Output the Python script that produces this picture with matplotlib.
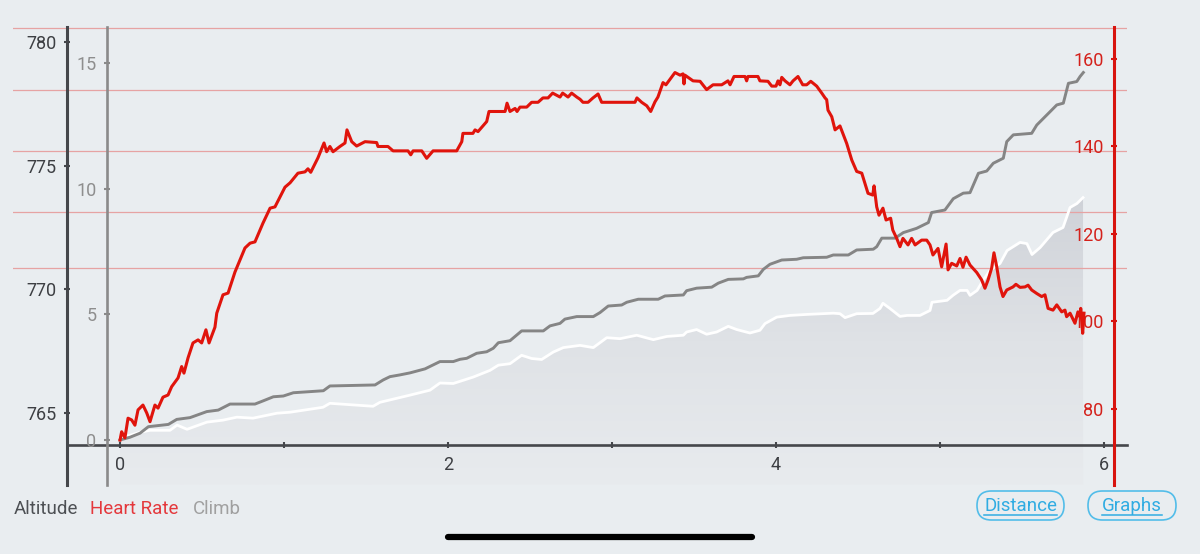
import matplotlib
matplotlib.use('Agg')
import matplotlib.pyplot as plt
import matplotlib.transforms as mtransforms
from matplotlib.colors import LinearSegmentedColormap
from matplotlib.patches import FancyBboxPatch
from matplotlib.lines import Line2D
import numpy as np

plt.rcParams['font.family'] = ['Roboto', 'DejaVu Sans']

# Heart rate [bpm] over distance [km]
hr_dist = [0.000, 0.010, 0.030, 0.049, 0.071, 0.091, 0.110, 0.140, 0.163, 0.183,
           0.213, 0.232, 0.262, 0.293, 0.315, 0.354, 0.376, 0.390, 0.415, 0.445,
           0.476, 0.498, 0.524, 0.543, 0.579, 0.590, 0.628, 0.659, 0.701, 0.762,
           0.793, 0.823, 0.872, 0.915, 0.945, 1.006, 1.037, 1.085, 1.128, 1.146,
           1.163, 1.207, 1.244, 1.260, 1.280, 1.299, 1.341, 1.372, 1.384, 1.413,
           1.443, 1.494, 1.565, 1.573, 1.634, 1.665, 1.756, 1.773, 1.787, 1.840,
           1.870, 1.909, 2.053, 2.084, 2.091, 2.152, 2.165, 2.183, 2.236, 2.250,
           2.348, 2.360, 2.378, 2.409, 2.421, 2.439, 2.480, 2.510, 2.549, 2.579,
           2.610, 2.638, 2.683, 2.699, 2.732, 2.754, 2.785, 2.805, 2.823, 2.854,
           2.884, 2.915, 2.937, 3.140, 3.152, 3.181, 3.212, 3.236, 3.262, 3.280,
           3.311, 3.329, 3.384, 3.415, 3.433, 3.439, 3.445, 3.494, 3.537, 3.577,
           3.616, 3.669, 3.707, 3.720, 3.744, 3.811, 3.821, 3.829, 3.890, 3.902,
           3.951, 3.974, 4.000, 4.012, 4.024, 4.035, 4.055, 4.085, 4.104, 4.134,
           4.163, 4.187, 4.212, 4.248, 4.279, 4.299, 4.309, 4.317, 4.340, 4.360,
           4.390, 4.431, 4.462, 4.492, 4.523, 4.561, 4.590, 4.598, 4.614, 4.628,
           4.652, 4.671, 4.699, 4.712, 4.736, 4.756, 4.774, 4.805, 4.827, 4.848,
           4.888, 4.919, 4.939, 4.957, 4.988, 5.010, 5.037, 5.049, 5.071, 5.102,
           5.122, 5.140, 5.159, 5.183, 5.224, 5.254, 5.274, 5.293, 5.315, 5.329,
           5.346, 5.366, 5.384, 5.407, 5.445, 5.463, 5.488, 5.518, 5.537, 5.559,
           5.590, 5.620, 5.640, 5.659, 5.689, 5.712, 5.742, 5.762, 5.772, 5.793,
           5.823, 5.841, 5.854, 5.858, 5.870, 5.878]
hr_bpm = [72.9, 74.8, 73.4, 77.9, 77.5, 76.3, 79.8, 80.9, 79.1, 77.1,
          80.9, 80.2, 82.7, 83.2, 85.1, 87.1, 89.7, 88.2, 91.7, 95.1,
          95.8, 95.1, 98.1, 95.1, 98.7, 101.9, 106.1, 106.5, 111.3, 116.8,
          117.9, 118.2, 122.5, 125.9, 126.2, 130.7, 131.7, 133.9, 134.2, 134.9,
          134.1, 137.4, 140.8, 138.8, 140.0, 138.8, 140.0, 140.8, 143.8, 141.1,
          140.1, 141.1, 140.9, 140.0, 140.0, 139.0, 139.0, 138.1, 139.0, 139.0,
          137.3, 139.0, 139.0, 141.1, 143.0, 143.0, 143.8, 143.4, 145.7, 148.0,
          148.0, 149.9, 148.0, 148.7, 148.0, 149.0, 149.0, 150.1, 150.1, 151.1,
          151.1, 152.2, 151.3, 152.2, 151.3, 152.2, 151.3, 150.8, 150.1, 150.1,
          151.1, 152.0, 150.1, 150.1, 151.1, 150.1, 149.3, 148.0, 150.2, 151.3,
          154.6, 154.1, 156.9, 156.3, 156.6, 154.3, 156.3, 155.0, 154.9, 153.0,
          154.1, 154.1, 155.0, 154.1, 156.0, 156.0, 155.0, 156.0, 156.0, 155.0,
          154.9, 153.8, 153.8, 155.0, 154.1, 155.8, 155.0, 154.1, 155.0, 156.0,
          154.1, 154.1, 154.9, 153.8, 152.2, 151.1, 150.7, 148.3, 146.8, 143.8,
          144.7, 140.7, 136.9, 134.3, 133.9, 129.3, 128.9, 131.0, 126.2, 124.3,
          125.9, 123.2, 123.6, 120.9, 119.0, 117.1, 119.0, 117.5, 119.0, 117.5,
          118.6, 118.6, 117.5, 115.2, 116.7, 112.5, 117.7, 111.8, 113.3, 112.7,
          114.4, 112.4, 114.7, 112.9, 111.2, 109.5, 107.6, 109.5, 112.2, 115.7,
          112.5, 107.9, 105.7, 107.2, 107.9, 108.5, 107.8, 107.9, 108.3, 107.2,
          106.4, 105.7, 106.1, 103.0, 102.6, 103.8, 102.2, 102.6, 101.1, 101.9,
          99.6, 102.2, 101.1, 103.0, 97.3, 101.9]

# Cumulative climb [m]
climb_dist = [0.000, 0.061, 0.122, 0.173, 0.295, 0.346, 0.427, 0.529, 0.599, 0.671,
              0.823, 0.874, 0.935, 0.996, 1.057, 1.240, 1.280, 1.555, 1.605, 1.646,
              1.707, 1.768, 1.860, 1.951, 2.032, 2.073, 2.114, 2.175, 2.236, 2.276,
              2.307, 2.378, 2.449, 2.581, 2.622, 2.683, 2.713, 2.785, 2.886, 2.927,
              2.977, 3.059, 3.090, 3.160, 3.282, 3.323, 3.435, 3.455, 3.516, 3.608,
              3.648, 3.709, 3.801, 3.821, 3.892, 3.923, 3.963, 4.035, 4.126, 4.166,
              4.309, 4.349, 4.441, 4.492, 4.593, 4.614, 4.645, 4.726, 4.776, 4.857,
              4.929, 4.949, 5.030, 5.081, 5.142, 5.183, 5.234, 5.285, 5.325, 5.386,
              5.407, 5.447, 5.559, 5.590, 5.671, 5.712, 5.752, 5.783, 5.834, 5.854,
              5.874]
climb_m = [0.00, 0.11, 0.27, 0.53, 0.62, 0.82, 0.89, 1.13, 1.19, 1.43,
           1.43, 1.56, 1.72, 1.75, 1.88, 1.96, 2.15, 2.19, 2.39, 2.52,
           2.59, 2.67, 2.83, 3.12, 3.12, 3.21, 3.25, 3.45, 3.51, 3.65,
           3.87, 3.95, 4.34, 4.34, 4.54, 4.64, 4.81, 4.91, 4.91, 5.07,
           5.33, 5.37, 5.48, 5.60, 5.60, 5.73, 5.77, 5.94, 6.04, 6.08,
           6.24, 6.39, 6.41, 6.47, 6.53, 6.79, 6.99, 7.16, 7.19, 7.25,
           7.27, 7.36, 7.36, 7.56, 7.59, 7.69, 8.03, 8.03, 8.25, 8.42,
           8.65, 9.05, 9.15, 9.60, 9.82, 9.84, 10.61, 10.70, 11.01, 11.21,
           11.87, 12.14, 12.20, 12.53, 13.06, 13.33, 13.40, 14.19, 14.26, 14.46,
           14.62]

# Altitude [m]
alt_dist = [0.000, 0.122, 0.183, 0.305, 0.348, 0.409, 0.530, 0.628, 0.713, 0.811,
            0.957, 1.037, 1.238, 1.280, 1.543, 1.585, 1.768, 1.890, 1.951, 2.032,
            2.154, 2.256, 2.307, 2.378, 2.449, 2.510, 2.571, 2.642, 2.703, 2.805,
            2.886, 2.968, 3.049, 3.151, 3.252, 3.334, 3.435, 3.455, 3.516, 3.577,
            3.638, 3.709, 3.760, 3.841, 3.902, 3.933, 4.004, 4.085, 4.187, 4.349,
            4.390, 4.421, 4.492, 4.591, 4.634, 4.652, 4.695, 4.756, 4.799, 4.878,
            4.939, 4.951, 5.043, 5.079, 5.122, 5.165, 5.183, 5.226, 5.262, 5.305,
            5.366, 5.409, 5.488, 5.530, 5.561, 5.610, 5.689, 5.750, 5.793, 5.835,
            5.872]
alt_m = [763.99, 764.23, 764.31, 764.31, 764.52, 764.35, 764.64, 764.72, 764.84, 764.80,
         765.00, 765.04, 765.24, 765.40, 765.28, 765.44, 765.73, 765.93, 766.22, 766.20,
         766.46, 766.73, 766.94, 767.00, 767.34, 767.21, 767.17, 767.47, 767.65, 767.74,
         767.65, 768.05, 768.01, 768.15, 767.97, 768.10, 768.15, 768.28, 768.38, 768.19,
         768.28, 768.51, 768.38, 768.24, 768.35, 768.62, 768.88, 768.95, 768.99, 769.04,
         769.02, 768.86, 769.02, 769.03, 769.23, 769.44, 769.23, 768.91, 768.95, 768.95,
         769.15, 769.48, 769.56, 769.76, 769.96, 769.96, 769.76, 769.96, 770.36, 770.77,
         771.05, 771.57, 771.90, 771.85, 771.41, 771.69, 772.30, 772.50, 773.31, 773.47,
         773.71]

# heart rate zone lines [bpm]
hr_zones = [112.2, 125.0, 139.0, 152.9, 167.0]

alt_ticks = [765, 770, 775, 780]
climb_ticks = [0, 5, 10, 15]
hr_ticks = [80, 100, 120, 140, 160]
dist_ticks = [0, 2, 4, 6]
dist_minor = [1, 3, 5]

bg = '#e9edf0'
dark = '#45474b'
grey = '#8a8a8a'
red = '#d8140f'

fig = plt.figure(figsize=(12, 5.54), dpi=100, facecolor=bg)
ax = fig.add_axes([13 / 1200, 69 / 554, 1114 / 1200, 458 / 554])
ax.set_facecolor('none')
ax_c = ax.twinx()
ax_h = ax.twinx()

xlim = (-0.6524, 6.1402)
alt_lim = (762.10, 780.60)
climb_lim = (-1.79, 16.43)
hr_lim = (62.63, 167.31)

# altitude: gradient fill + white line
poly = ax.fill_between(alt_dist, alt_m, alt_lim[0], color='none', lw=0)
cmap = LinearSegmentedColormap.from_list('fill', ['#e8ebee', '#dfe2e6', '#cfd2d8'])
grad = np.linspace(0, 1, 256).reshape(-1, 1)
im = ax.imshow(grad, extent=[alt_dist[0], alt_dist[-1], alt_lim[0], max(alt_m)],
               origin='lower', aspect='auto', cmap=cmap, zorder=1)
im.set_clip_path(poly.get_paths()[0], transform=ax.transData)
ax.plot(alt_dist, alt_m, color='white', lw=2.0, zorder=3, solid_joinstyle='round')

# zone lines
blend = mtransforms.blended_transform_factory(ax.transAxes, ax_h.transData)
for z in hr_zones:
    ax.plot([0, 1], [z, z], transform=blend, color='#e6a3a3', lw=0.9, zorder=2)

ax_c.plot(climb_dist, climb_m, color='#858585', lw=2.1, solid_joinstyle='round')
ax_h.plot(hr_dist, hr_bpm, color='#e0140c', lw=2.2, solid_joinstyle='round')

ax.set_xlim(*xlim)
ax.set_ylim(*alt_lim)
ax_c.set_ylim(*climb_lim)
ax_h.set_ylim(*hr_lim)


def style_y(a, xpos, color, lw, labelcolor, ticks):
    for s in a.spines.values():
        s.set_visible(False)
    a.spines['left'].set_visible(True)
    a.spines['left'].set_position(('data', xpos))
    a.spines['left'].set_color(color)
    a.spines['left'].set_linewidth(lw)
    a.yaxis.tick_left()
    a.set_yticks(ticks)
    a.tick_params(axis='y', direction='inout', length=5, width=1.5, color=color,
                  labelcolor=labelcolor, labelsize=13, pad=5)


style_y(ax, -0.3232, dark, 2.2, '#3d3f43', alt_ticks)
style_y(ax_c, -0.0793, grey, 1.9, '#8e8e8e', climb_ticks)
style_y(ax_h, 6.0610, red, 2.2, '#d4211b', hr_ticks)

ax.spines['bottom'].set_visible(True)
ax.spines['bottom'].set_position(('data', 763.71))
ax.spines['bottom'].set_bounds(-0.3232, xlim[1])
ax.spines['bottom'].set_color(dark)
ax.spines['bottom'].set_linewidth(1.9)
ax.set_xticks(dist_ticks)
ax.set_xticks(dist_minor, minor=True)
ax.tick_params(axis='x', which='both', direction='inout', length=5, width=1.5,
               color=dark, labelcolor='#3d3f43', labelsize=13, pad=5)

# legend-like labels
fig.text(14 / 1200, 1 - 509 / 554, 'Altitude', color='#4d5054', fontsize=13.5, va='center')
fig.text(90 / 1200, 1 - 509 / 554, 'Heart Rate', color='#e4383c', fontsize=13.5, va='center')
fig.text(193 / 1200, 1 - 509 / 554, 'Climb', color='#a0a0a0', fontsize=13.5, va='center')

# buttons (box left/right, underline left/right in pixels)
blue = '#30ace2'
for label, x0, x1, u0, u1 in [('Distance', 977, 1064, 984, 1057),
                              ('Graphs', 1088, 1176, 1102, 1162)]:
    box = FancyBboxPatch((x0 / 1200, 1 - 520 / 554), (x1 - x0) / 1200, 29 / 554,
                         boxstyle='round,pad=0,rounding_size=0.012',
                         transform=fig.transFigure, fc='none', ec='#52bde9', lw=1.2,
                         mutation_aspect=1200 / 554)
    fig.add_artist(box)
    fig.text((x0 + x1) / 2 / 1200, 1 - 506 / 554, label, color=blue,
             fontsize=13.5, ha='center', va='center')
    fig.add_artist(Line2D([u0 / 1200, u1 / 1200], [1 - 515 / 554] * 2, color=blue,
                          lw=1.1, transform=fig.transFigure))

# home indicator bar
fig.add_artist(Line2D([448 / 1200, 752 / 1200], [1 - 537 / 554] * 2, color='black',
                      lw=4.5, solid_capstyle='round', transform=fig.transFigure))

fig.savefig('out.png', dpi=100, facecolor=bg)
